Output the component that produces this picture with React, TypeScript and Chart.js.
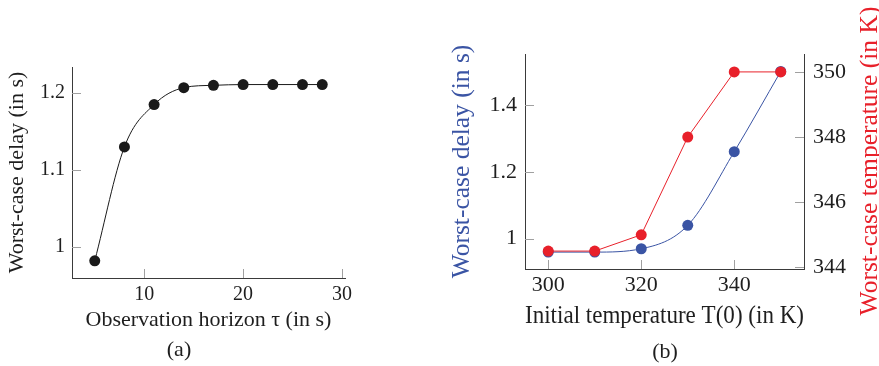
import React, { useEffect, useRef } from "react";
import { Chart, registerables } from "chart.js";

Chart.register(...registerables);

// ---------- data ----------
const tauValues = [5, 8, 11, 14, 17, 20, 23, 26, 28];
const delayA = [0.982, 1.13, 1.185, 1.207, 1.21, 1.211, 1.211, 1.211, 1.211];
const xTicksA = [10, 20, 30];
const yTicksA = [1, 1.1, 1.2];

const initTemps = [300, 310, 320, 330, 340, 350];
const delayB = [0.96, 0.96, 0.97, 1.04, 1.26, 1.5];
const worstTempB = [344.5, 344.5, 345, 348, 350, 350];
const xTicksB = [300, 320, 340];
const yTicksB = [1, 1.2, 1.4];
const y1TicksB = [344, 346, 348, 350];

const FONT = "'Liberation Serif', 'Times New Roman', serif";
const BLUE = "#3a54a4";
const RED = "#e8202a";
const AXIS = "#3a3a3a";
const TICK = "#a0a0a0";
const TEXT = "#1e1e1e";

const fmt = (v: any) => String(parseFloat(Number(v).toFixed(3)));

const setTicks = (vals: number[]) => (scale: any) => {
  scale.ticks = vals.map((v) => ({ value: v }));
};

// draws inward tick marks plus extra texts
const makeDecor = (extras: { text: string; x: number; y: number; size: number; color: string; rotate?: boolean }[]) => ({
  id: "decor",
  afterDraw(chart: any) {
    const { ctx, chartArea } = chart;
    ctx.save();
    ctx.strokeStyle = TICK;
    ctx.lineWidth = 1;
    Object.values(chart.scales).forEach((s: any) => {
      s.ticks.forEach((t: any) => {
        const p = s.getPixelForValue(t.value);
        ctx.beginPath();
        if (s.axis === "x") {
          const px = Math.round(p) + 0.5;
          ctx.moveTo(px, chartArea.bottom);
          ctx.lineTo(px, chartArea.bottom - 9);
        } else if (s.position === "left") {
          const py = Math.round(p) + 0.5;
          ctx.moveTo(chartArea.left, py);
          ctx.lineTo(chartArea.left + 9, py);
        } else {
          const py = Math.round(p) + 0.5;
          ctx.moveTo(chartArea.right, py);
          ctx.lineTo(chartArea.right - 9, py);
        }
        ctx.stroke();
      });
    });
    extras.forEach((e) => {
      ctx.save();
      ctx.font = `${e.size}px ${FONT}`;
      ctx.fillStyle = e.color;
      ctx.textAlign = "center";
      ctx.textBaseline = "middle";
      ctx.translate(e.x, e.y);
      if (e.rotate) ctx.rotate(-Math.PI / 2);
      ctx.fillText(e.text, 0, 0);
      ctx.restore();
    });
    ctx.restore();
  },
});

const gridOpts = { drawOnChartArea: false, drawTicks: false };
const borderOpts = { display: true, color: AXIS, width: 1 };

export default function App() {
  const refA = useRef<HTMLCanvasElement>(null);
  const refB = useRef<HTMLCanvasElement>(null);

  useEffect(() => {
    const chartA = new Chart(refA.current!, {
      type: "line",
      data: {
        datasets: [
          {
            data: tauValues.map((x, i) => ({ x, y: delayA[i] })),
            borderColor: "#1a1a1a",
            backgroundColor: "#1a1a1a",
            borderWidth: 1,
            pointRadius: 5.5,
            pointBorderWidth: 0,
            cubicInterpolationMode: "monotone",
          },
        ],
      },
      options: {
        animation: false,
        responsive: false,
        layout: { padding: { left: 0, top: 67, right: 15, bottom: 0 } },
        plugins: { legend: { display: false }, tooltip: { enabled: false } },
        scales: {
          x: {
            type: "linear",
            min: 2.7,
            max: 30.3,
            bounds: "data",
            afterBuildTicks: setTicks(xTicksA),
            afterFit: (s: any) => { s.height = 88; },
            grid: gridOpts,
            border: borderOpts,
            ticks: { padding: 5, color: TEXT, font: { family: FONT, size: 20 }, callback: fmt, maxRotation: 0, autoSkip: false },
            title: { display: true, text: "Observation horizon τ (in s)", color: TEXT, font: { family: FONT, size: 22 }, padding: { top: 0, bottom: 33 } },
          },
          y: {
            type: "linear",
            min: 0.9597,
            max: 1.2338,
            bounds: "data",
            afterBuildTicks: setTicks(yTicksA),
            afterFit: (s: any) => { s.width = 72; },
            grid: gridOpts,
            border: borderOpts,
            ticks: { padding: 7, color: TEXT, font: { family: FONT, size: 20 }, callback: fmt, autoSkip: false },
            title: { display: true, text: "Worst-case delay (in s)", color: TEXT, font: { family: FONT, size: 22 }, padding: { top: 4, bottom: 0 } },
          },
        },
      },
      plugins: [makeDecor([{ text: "(a)", x: 179, y: 350, size: 22, color: TEXT }])],
    } as any);

    const chartB = new Chart(refB.current!, {
      type: "line",
      data: {
        datasets: [
          {
            data: initTemps.map((x, i) => ({ x, y: worstTempB[i] })),
            yAxisID: "y1",
            borderColor: RED,
            backgroundColor: RED,
            borderWidth: 1,
            pointRadius: 5.5,
            pointBorderWidth: 0,
            tension: 0,
            order: 0,
          },
          {
            data: initTemps.map((x, i) => ({ x, y: delayB[i] })),
            yAxisID: "y",
            borderColor: BLUE,
            backgroundColor: BLUE,
            borderWidth: 1,
            pointRadius: 5.5,
            pointBorderWidth: 0,
            cubicInterpolationMode: "monotone",
            order: 1,
          },
        ],
      },
      options: {
        animation: false,
        responsive: false,
        layout: { padding: { left: 0, top: 54, right: 0, bottom: 0 } },
        plugins: { legend: { display: false }, tooltip: { enabled: false } },
        scales: {
          x: {
            type: "linear",
            min: 295,
            max: 355,
            bounds: "data",
            afterBuildTicks: setTicks(xTicksB),
            afterFit: (s: any) => { s.height = 97; },
            grid: gridOpts,
            border: borderOpts,
            ticks: { padding: 3, color: TEXT, font: { family: FONT, size: 22 }, callback: fmt, maxRotation: 0, autoSkip: false },
            title: { display: true, text: "Initial temperature T(0) (in K)", color: TEXT, font: { family: FONT, size: 25.5 }, padding: { top: 0, bottom: 34 } },
          },
          y: {
            type: "linear",
            position: "left",
            min: 0.9095,
            max: 1.552,
            bounds: "data",
            afterBuildTicks: setTicks(yTicksB),
            afterFit: (s: any) => { s.width = 95; },
            grid: gridOpts,
            border: borderOpts,
            ticks: { padding: 8, color: TEXT, font: { family: FONT, size: 22 }, callback: fmt, autoSkip: false },
            title: { display: true, text: "Worst-case delay (in s)", color: BLUE, font: { family: FONT, size: 25.5 }, padding: { top: 17, bottom: 0 } },
          },
          y1: {
            type: "linear",
            position: "right",
            min: 343.95,
            max: 350.55,
            bounds: "data",
            afterBuildTicks: setTicks(y1TicksB),
            afterFit: (s: any) => { s.width = 75; },
            grid: gridOpts,
            border: borderOpts,
            ticks: { padding: 9, color: TEXT, font: { family: FONT, size: 22 }, callback: fmt, autoSkip: false },
            title: { display: false },
          },
        },
      },
      plugins: [
        makeDecor([
          { text: "Worst-case temperature (in K)", x: 440, y: 161, size: 25.5, color: RED, rotate: true },
          { text: "(b)", x: 235, y: 352, size: 22, color: TEXT },
        ]),
      ],
    } as any);

    return () => {
      chartA.destroy();
      chartB.destroy();
    };
  }, []);

  return (
    <div style={{ position: "absolute", left: 0, top: 0, width: 879, height: 366, background: "#fff" }}>
      <canvas ref={refA} width={360} height={366} style={{ position: "absolute", left: 0, top: 0 }} />
      <canvas ref={refB} width={449} height={366} style={{ position: "absolute", left: 430, top: 0 }} />
    </div>
  );
}
